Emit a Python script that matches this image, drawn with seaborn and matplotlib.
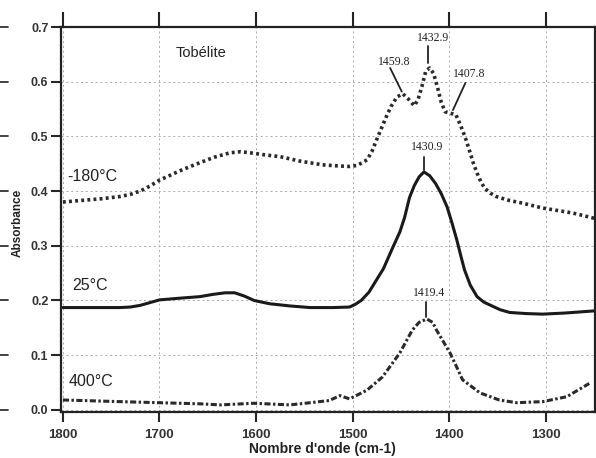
import matplotlib
matplotlib.use("Agg")
import matplotlib.pyplot as plt
import seaborn as sns
import pandas as pd

# -180 °C
w_m180 = [1800, 1780, 1760, 1741, 1730, 1720, 1710, 1700, 1690, 1679, 1668, 1658, 1643, 1627,
          1616, 1606, 1590, 1575, 1555, 1531, 1515, 1503, 1495, 1485, 1480, 1475, 1470, 1465,
          1460, 1454, 1448, 1442, 1436, 1432, 1428, 1424, 1420, 1416, 1412, 1408, 1404, 1398,
          1393, 1388, 1383, 1379, 1375, 1371, 1367, 1363, 1357, 1351, 1338, 1324, 1303, 1272, 1249]
a_m180 = [0.380, 0.383, 0.386, 0.390, 0.394, 0.400, 0.409, 0.420, 0.428, 0.437, 0.445, 0.452,
          0.462, 0.470, 0.472, 0.470, 0.466, 0.463, 0.455, 0.448, 0.446, 0.445, 0.447, 0.457,
          0.472, 0.494, 0.515, 0.536, 0.555, 0.572, 0.578, 0.568, 0.556, 0.568, 0.592, 0.620,
          0.625, 0.615, 0.590, 0.562, 0.545, 0.542, 0.540, 0.520, 0.497, 0.475, 0.452, 0.433,
          0.417, 0.405, 0.396, 0.390, 0.383, 0.378, 0.369, 0.360, 0.350]
# 25 °C
w_25 = [1800, 1770, 1741, 1730, 1720, 1710, 1700, 1680, 1658, 1645, 1632, 1622, 1612, 1602,
        1586, 1565, 1544, 1520, 1503, 1497, 1491, 1483, 1475, 1468, 1458, 1451, 1446, 1441,
        1436, 1431, 1426, 1420, 1414, 1408, 1402, 1397, 1392, 1388, 1384, 1378, 1371, 1364,
        1358, 1347, 1337, 1320, 1303, 1280, 1249]
a_25 = [0.187, 0.187, 0.187, 0.188, 0.191, 0.196, 0.201, 0.204, 0.207, 0.211, 0.214, 0.214,
        0.208, 0.200, 0.194, 0.190, 0.187, 0.187, 0.188, 0.193, 0.200, 0.215, 0.238, 0.258,
        0.298, 0.325, 0.352, 0.388, 0.410, 0.426, 0.435, 0.428, 0.414, 0.395, 0.371, 0.342,
        0.311, 0.283, 0.256, 0.228, 0.207, 0.197, 0.192, 0.183, 0.178, 0.176, 0.175, 0.177, 0.181]
# 400 °C
w_400 = [1800, 1741, 1700, 1658, 1637, 1602, 1565, 1544, 1524, 1513, 1503, 1485, 1469, 1451,
         1438, 1431, 1423, 1417, 1413, 1406, 1399, 1392, 1386, 1368, 1348, 1330, 1303, 1278, 1254]
a_400 = [0.018, 0.015, 0.013, 0.011, 0.009, 0.012, 0.009, 0.013, 0.017, 0.026, 0.020, 0.036,
         0.060, 0.104, 0.146, 0.160, 0.166, 0.160, 0.146, 0.125, 0.104, 0.078, 0.055, 0.031,
         0.018, 0.013, 0.015, 0.024, 0.049]

x_ticks = [1800, 1700, 1600, 1500, 1400, 1300]
y_ticks = [0.0, 0.1, 0.2, 0.3, 0.4, 0.5, 0.6, 0.7]

sns.set_style("white")
plt.rcParams['font.family'] = ['Liberation Sans', 'DejaVu Sans']

fig = plt.figure(figsize=(5.96, 4.58), dpi=100)
ax = fig.add_axes([0.1023, 0.1004, 0.8957, 0.8406])

df1 = pd.DataFrame({"w": w_m180, "a": a_m180})
df2 = pd.DataFrame({"w": w_25, "a": a_25})
df3 = pd.DataFrame({"w": w_400, "a": a_400})

sns.lineplot(data=df1, x="w", y="a", ax=ax, color="#2a2a2a", lw=2.6,
             linestyle=(0, (0.8, 0.9)), sort=False)
sns.lineplot(data=df2, x="w", y="a", ax=ax, color="#1a1a1a", lw=2.2, sort=False)
sns.lineplot(data=df3, x="w", y="a", ax=ax, color="#2a2a2a", lw=2.2,
             linestyle=(0, (2.0, 0.8, 0.8, 0.8)), sort=False)

ax.set_xlim(1802, 1249)
ax.set_ylim(-0.004, 0.700)
ax.set_xticks(x_ticks)
ax.set_yticks(y_ticks)
ax.set_xticklabels([str(t) for t in x_ticks], fontsize=9.5)
ax.set_yticklabels([f"{t:.1f}" for t in y_ticks], fontsize=9)
ax.tick_params(axis='x', direction='out', length=7, width=1.5,
               top=False, bottom=True, pad=5)
ax.tick_params(axis='y', direction='out', length=7, width=1.5, left=True, pad=2)
for lab in ax.get_xticklabels() + ax.get_yticklabels():
    lab.set_fontweight('bold')
    lab.set_color('#333333')

top = ax.secondary_xaxis('top')
top.set_xticks(x_ticks)
top.set_xticklabels([])
top.tick_params(direction='out', length=11, width=1.5, color='#222222')
top.spines['top'].set_visible(False)

ax.grid(True, color='#aaaaaa', linestyle=(0, (2, 3)), lw=0.7)
for s in ax.spines.values():
    s.set_linewidth(1.6)
    s.set_color('#222222')

ax.set_xlabel("Nombre d'onde (cm-1)", fontsize=10, fontweight='bold', color='#222222')
ax.xaxis.set_label_coords(0.49, -0.079)
ax.set_ylabel("Absorbance", fontsize=8.5, fontweight='bold', color='#222222')
ax.yaxis.set_label_coords(-0.070, 0.49)

# cropped tick marks at the left edge of the scan
for t in y_ticks:
    ax.plot([-0.114, -0.100], [t, t], transform=ax.get_yaxis_transform(),
            color='#333333', lw=1.3, clip_on=False)

ax.text(1657, 0.653, "Tobélite", fontsize=10.5, ha='center', va='center', color='#222222')
ax.text(1795, 0.426, "-180°C", fontsize=11.5, ha='left', va='center', color='#222222')
ax.text(1790, 0.227, "25°C", fontsize=11.5, ha='left', va='center', color='#222222')
ax.text(1794, 0.051, "400°C", fontsize=11.5, ha='left', va='center', color='#222222')

serif = ['Liberation Serif', 'DejaVu Serif']
ann = [
    ("1432.9", 1417, 0.680, (1422, 0.666), (1422, 0.634)),
    ("1459.8", 1457, 0.636, (1461, 0.625), (1449, 0.582)),
    ("1407.8", 1379, 0.614, (1383, 0.598), (1396, 0.548)),
    ("1430.9", 1423, 0.481, (1426, 0.463), (1426, 0.439)),
    ("1419.4", 1421, 0.214, (1424, 0.197), (1424, 0.170)),
]
for txt, tx, ty, p0, p1 in ann:
    ax.text(tx, ty, txt, fontsize=8.5, ha='center', va='center', family=serif, color='#222222')
    ax.plot([p0[0], p1[0]], [p0[1], p1[1]], color='#222222', lw=1.3)

fig.savefig("out.png", dpi=100)
